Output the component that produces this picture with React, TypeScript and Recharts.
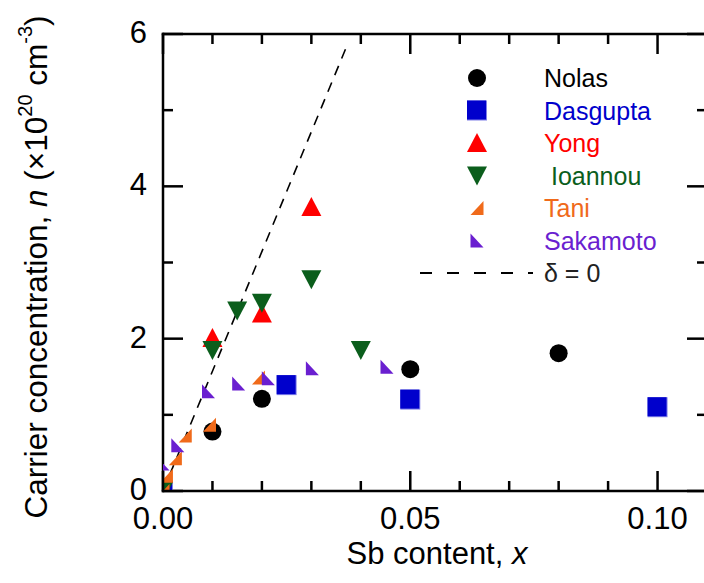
import React from 'react';
import { ScatterChart, Scatter, XAxis, YAxis, Legend, Label } from 'recharts';

// ---------- data ----------
const nolasX = [0, 0.01, 0.02, 0.05, 0.08];
const nolasN = [0, 0.78, 1.21, 1.6, 1.81];

const dasguptaX = [0, 0.025, 0.05, 0.1];
const dasguptaN = [0, 1.39, 1.2, 1.1];

const yongX = [0, 0.01, 0.02, 0.03];
const yongN = [0, 2.01, 2.33, 3.73];

const ioannouX = [0, 0.01, 0.015, 0.02, 0.03, 0.04];
const ioannouN = [0, 1.85, 2.37, 2.47, 2.78, 1.85];

const taniX = [0, 0.0007, 0.0025, 0.0045, 0.0094, 0.0193];
const taniN = [0, 0.2, 0.43, 0.73, 0.87, 1.49];

const sakamotoX = [0, 0.003, 0.0092, 0.0153, 0.0213, 0.0302, 0.0453];
const sakamotoN = [0.36, 0.6, 1.31, 1.41, 1.48, 1.61, 1.63];

const deltaX = [0, 0.0374];
const deltaN = [0, 5.88];

const seriesNames = ['Nolas', 'Dasgupta', 'Yong', ' Ioannou', 'Tani', 'Sakamoto', 'δ = 0'];
const seriesColors = ['#000000', '#0000cc', '#ff0000', '#0b5e1c', '#f06a1a', '#6a1fd0', '#222222'];

const xTicks = [0, 0.01, 0.02, 0.03, 0.04, 0.05, 0.06, 0.07, 0.08, 0.09, 0.1];
const xMajor = [0, 0.05, 0.1];
const xMajorLabels = ['0.00', '0.05', '0.10'];
const yTicks = [0, 1, 2, 3, 4, 5, 6];
const yMajor = [0, 2, 4, 6];
const yMajorLabels = ['0', '2', '4', '6'];

const toPts = (xs: number[], ys: number[]) => xs.map((x, i) => ({ x, n: ys[i] }));

const FONT = '"Liberation Sans", Arial, Helvetica, sans-serif';
const AX = 2.5;

// ---------- marker shapes ----------
type Kind = 'circle' | 'square' | 'up' | 'down' | 'tani' | 'saka' | 'dash';
const kinds: Kind[] = ['circle', 'square', 'up', 'down', 'tani', 'saka', 'dash'];

function marker(kind: Kind, cx: number, cy: number, color: string, key?: string) {
  switch (kind) {
    case 'circle':
      return <circle key={key} cx={cx} cy={cy} r={9} fill={color} />;
    case 'square':
      return (
        <g key={key}>
          <rect x={cx - 10} y={cy - 10} width={20} height={20} fill="#8080e8" />
          <rect x={cx - 10} y={cy - 10} width={19} height={19} fill={color} />
        </g>
      );
    case 'up':
      return <polygon key={key} points={`${cx},${cy - 10} ${cx + 10},${cy + 9} ${cx - 10},${cy + 9}`} fill={color} />;
    case 'down':
      return <polygon key={key} points={`${cx - 10},${cy - 9} ${cx + 10},${cy - 9} ${cx},${cy + 10}`} fill={color} />;
    case 'tani':
      return <polygon key={key} points={`${cx + 6.5},${cy - 7} ${cx + 6.5},${cy + 7} ${cx - 6.5},${cy + 7}`} fill={color} />;
    case 'saka':
      return <polygon key={key} points={`${cx - 6.5},${cy - 7} ${cx - 6.5},${cy + 7} ${cx + 6.5},${cy + 7}`} fill={color} />;
    default:
      return <g key={key} />;
  }
}

const shapeFor = (i: number) => (p: any) => marker(kinds[i], p.cx, p.cy, seriesColors[i]);

// ---------- ticks ----------
const findIdx = (arr: number[], v: number) => arr.findIndex((m) => Math.abs(m - v) < 1e-7);

const BottomTick = (p: any) => {
  const idx = findIdx(xMajor, p.payload.value);
  const len = idx >= 0 ? 20 : 10;
  return (
    <g>
      <line x1={p.x} x2={p.x} y1={p.y} y2={p.y - len} stroke="#000" strokeWidth={AX} />
      {idx >= 0 && (
        <text x={p.x} y={p.y + 38} textAnchor="middle" fontSize={31} fontFamily={FONT} fill="#000">
          {xMajorLabels[idx]}
        </text>
      )}
    </g>
  );
};

const TopTick = (p: any) => {
  const idx = findIdx(xMajor, p.payload.value);
  const len = idx >= 0 ? 20 : 10;
  return <line x1={p.x} x2={p.x} y1={p.y} y2={p.y + len} stroke="#000" strokeWidth={AX} />;
};

const LeftTick = (p: any) => {
  const idx = findIdx(yMajor, p.payload.value);
  const len = idx >= 0 ? 20 : 10;
  return (
    <g>
      <line x1={p.x} x2={p.x + len} y1={p.y} y2={p.y} stroke="#000" strokeWidth={AX} />
      {idx >= 0 && (
        <text x={p.x - 16} y={p.y + 9} textAnchor="end" fontSize={31} fontFamily={FONT} fill="#000">
          {yMajorLabels[idx]}
        </text>
      )}
    </g>
  );
};

const RightTick = (p: any) => {
  const idx = findIdx(yMajor, p.payload.value);
  const len = idx >= 0 ? 20 : 10;
  return <line x1={p.x} x2={p.x - len} y1={p.y} y2={p.y} stroke="#000" strokeWidth={AX} />;
};

// ---------- legend ----------
const rowY = [23, 55.5, 88, 120.5, 153, 185.5, 218];
const renderLegend = (props: any) => {
  const payload: any[] = props.payload || [];
  const items = payload
    .map((e) => ({ e, i: seriesNames.indexOf(e.value) }))
    .filter((o) => o.i >= 0)
    .sort((a, b) => a.i - b.i);
  return (
    <svg width={300} height={240} style={{ display: 'block', overflow: 'visible' }}>
      {items.map(({ i }) => (
        <g key={i}>
          {kinds[i] === 'dash' ? (
            <line x1={20} x2={133} y1={rowY[i]} y2={rowY[i]} stroke="#000" strokeWidth={2} strokeDasharray="12 15" />
          ) : (
            marker(kinds[i], 77, rowY[i], seriesColors[i])
          )}
          <text
            x={144}
            y={rowY[i] + 9}
            fontSize={25}
            fontFamily={FONT}
            fill={seriesColors[i]}
            style={{ whiteSpace: 'pre' }}
            xmlSpace="preserve"
          >
            {seriesNames[i]}
          </text>
        </g>
      ))}
    </svg>
  );
};

// ---------- labels ----------
const XLabel = () => (
  <text x={437} y={564} textAnchor="middle" fontSize={31} fontFamily={FONT} fill="#000">
    Sb content, <tspan fontStyle="italic">x</tspan>
  </text>
);

const YLabel = () => (
  <text transform="translate(47,267) rotate(-90)" textAnchor="middle" fontSize={31.5} fontFamily={FONT} fill="#000">
    Carrier concentration, <tspan fontStyle="italic">n</tspan> (×10
    <tspan dy={-15} fontSize={20}>20</tspan>
    <tspan dy={15}> cm</tspan>
    <tspan dy={-15} fontSize={20}>-3</tspan>
    <tspan dy={15}>)</tspan>
  </text>
);

export default function App() {
  const axisLine = { stroke: '#000', strokeWidth: AX, strokeLinecap: 'square' as const };
  return (
    <div style={{ position: 'absolute', left: 0, top: 0, width: 704, height: 583, overflow: 'hidden', background: '#fff' }}>
      <ScatterChart width={740} height={583} margin={{ top: 0, right: 0, bottom: 0, left: 0 }}>
        <XAxis
          xAxisId="b"
          type="number"
          dataKey="x"
          domain={[0, 0.11]}
          allowDataOverflow
          ticks={xTicks}
          interval={0}
          height={92}
          tickSize={0}
          tickMargin={0}
          tickLine={false}
          axisLine={axisLine}
          tick={<BottomTick />}
        >
          <Label content={<XLabel />} />
        </XAxis>
        <XAxis
          xAxisId="t"
          orientation="top"
          type="number"
          dataKey="x"
          domain={[0, 0.11]}
          allowDataOverflow
          ticks={xTicks}
          interval={0}
          height={34}
          tickSize={0}
          tickMargin={0}
          tickLine={false}
          axisLine={axisLine}
          tick={<TopTick />}
        />
        <YAxis
          yAxisId="l"
          type="number"
          dataKey="n"
          domain={[0, 6]}
          allowDataOverflow
          ticks={yTicks}
          interval={0}
          width={163}
          tickSize={0}
          tickMargin={0}
          tickLine={false}
          axisLine={axisLine}
          tick={<LeftTick />}
        >
          <Label content={<YLabel />} />
        </YAxis>
        <YAxis
          yAxisId="r"
          orientation="right"
          type="number"
          dataKey="n"
          domain={[0, 6]}
          allowDataOverflow
          ticks={yTicks}
          interval={0}
          width={33}
          tickSize={0}
          tickMargin={0}
          tickLine={false}
          axisLine={axisLine}
          tick={<RightTick />}
        />
        <Legend
          layout="vertical"
          align="center"
          verticalAlign="middle"
          content={renderLegend}
          wrapperStyle={{ left: 400, top: 55, width: 300, height: 240 }}
        />
        <Scatter name={seriesNames[6]} data={toPts(deltaX, deltaN)} xAxisId="b" yAxisId="l" isAnimationActive={false}
          line={{ stroke: '#000', strokeWidth: 1.6, strokeDasharray: '10 8' }} shape={() => <g />} />
        <Scatter name={seriesNames[0]} data={toPts(nolasX, nolasN)} xAxisId="b" yAxisId="l" isAnimationActive={false} shape={shapeFor(0)} />
        <Scatter name={seriesNames[1]} data={toPts(dasguptaX, dasguptaN)} xAxisId="b" yAxisId="l" isAnimationActive={false} shape={shapeFor(1)} />
        <Scatter name={seriesNames[2]} data={toPts(yongX, yongN)} xAxisId="b" yAxisId="l" isAnimationActive={false} shape={shapeFor(2)} />
        <Scatter name={seriesNames[3]} data={toPts(ioannouX, ioannouN)} xAxisId="b" yAxisId="l" isAnimationActive={false} shape={shapeFor(3)} />
        <Scatter name={seriesNames[4]} data={toPts(taniX, taniN)} xAxisId="b" yAxisId="l" isAnimationActive={false} shape={shapeFor(4)} />
        <Scatter name={seriesNames[5]} data={toPts(sakamotoX, sakamotoN)} xAxisId="b" yAxisId="l" isAnimationActive={false} shape={shapeFor(5)} />
      </ScatterChart>
    </div>
  );
}
